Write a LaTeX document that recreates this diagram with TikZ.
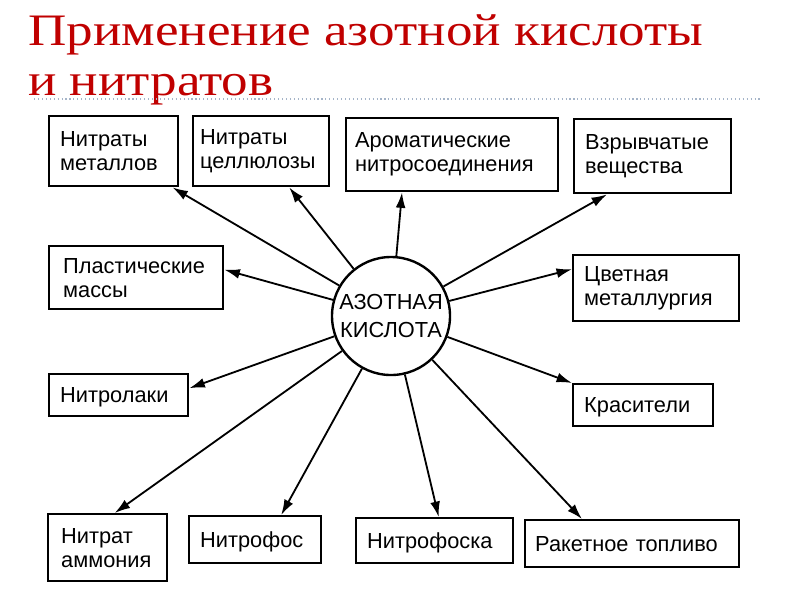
\documentclass[tikz,border=0pt]{standalone}
\usepackage{fontspec}
\setmainfont{Liberation Serif}
\setsansfont{Liberation Sans}
\usetikzlibrary{arrows.meta, positioning, calc}
\definecolor{TitleRed}{RGB}{192, 0, 0}
\definecolor{RuleGray}{RGB}{165, 180, 200}
\newdimen\unitpx \unitpx=0.025cm

\tikzset{
  usebox/.style={draw, line width=1.7pt, anchor=north west, align=left, inner xsep=11\unitpx, inner ysep=0pt, font=\sffamily\fontsize{15.5}{17}\selectfont},
  oneline/.style={text depth=0pt},
  usearrow/.style={line width=1.3pt, -{Latex[length=11pt, width=7pt]}},
}

\begin{document}
\begin{tikzpicture}[x=1\unitpx, y=-1\unitpx]
    \useasboundingbox (0,0) rectangle (800,600);

    % title
    \node[TitleRed, anchor=base west, inner sep=0pt, font=\fontsize{32}{36}\selectfont] (title) at (28,45) {\scalebox{1.18}[1]{Применение азотной кислоты}};
    \node[TitleRed, anchor=base west, inner sep=0pt, font=\fontsize{32}{36}\selectfont] (title2) at (28,95) {\scalebox{1.18}[1]{и нитратов}};
    \draw[RuleGray, line width=0.8pt, dotted] (34,99) -- (760,99);

    % centre
    \node[draw, circle, line width=1.7pt, minimum size=118\unitpx, inner sep=0pt, align=center, font=\sffamily\fontsize{15.5}{20.5}\selectfont] (acid) at (391,316) {АЗОТНАЯ\\КИСЛОТА};

    % top row
    \node[usebox, text width=107\unitpx, minimum height=70\unitpx] (b1) at (48,115) {Нитраты\\металлов};
    \node[usebox, inner xsep=7\unitpx, text width=122\unitpx, minimum height=70\unitpx] (b2) at (192,115) {Нитраты\\целлюлозы};
    \node[usebox, inner xsep=9\unitpx, text width=194\unitpx, minimum height=73\unitpx] (b3) at (345,117) {Ароматические\\нитросоединения};
    \node[usebox, text width=135\unitpx, minimum height=74\unitpx] (b4) at (573,118) {Взрывчатые\\вещества};

    % sides
    \node[usebox, inner xsep=14\unitpx, text width=146\unitpx, minimum height=63\unitpx] (b5) at (48,245) {Пластические\\массы};
    \node[usebox, oneline, text width=117\unitpx, minimum height=42\unitpx] (b6) at (48,373) {Нитролаки};
    \node[usebox, text width=144\unitpx, minimum height=66\unitpx] (b7) at (572,254) {Цветная\\металлургия};
    \node[usebox, oneline, text width=118\unitpx, minimum height=42\unitpx] (b8) at (572,383) {Красители};

    % bottom row
    \node[usebox, inner xsep=13\unitpx, text width=93\unitpx, minimum height=67\unitpx] (b9) at (47,513) {Нитрат\\аммония};
    \node[usebox, oneline, text width=110\unitpx, minimum height=47\unitpx] (b10) at (188,515) {Нитрофос};
    \node[usebox, oneline, text width=135\unitpx, minimum height=45\unitpx] (b11) at (355,517) {Нитрофоска};
    \node[usebox, oneline, inner xsep=10\unitpx, text width=194\unitpx, minimum height=47\unitpx] (b12) at (524,519) {Ракетное топливо};

    % arrows
    \draw[usearrow] (acid) -- ($(b1.south east)+(-7,0)$);
    \draw[usearrow] (acid) -- ($(b2.south)+(28,0)$);
    \draw[usearrow] (acid) -- ($(b3.south west)+(57,0)$);
    \draw[usearrow] (acid) -- ($(b4.south west)+(34,0)$);
    \draw[usearrow] (acid) -- ($(b5.east)+(0,-8)$);
    \draw[usearrow] (acid) -- ($(b6.east)+(0,-7)$);
    \draw[usearrow] (acid) -- ($(b7.west)+(0,-19)$);
    \draw[usearrow] (acid) -- (b8.north west);
    \draw[usearrow] (acid) -- ($(b9.north)+(7,0)$);
    \draw[usearrow] (acid) -- ($(b10.north)+(26,0)$);
    \draw[usearrow] (acid) -- ($(b11.north)+(4,0)$);
    \draw[usearrow] (acid) -- ($(b12.north west)+(58,0)$);
\end{tikzpicture}
\end{document}
